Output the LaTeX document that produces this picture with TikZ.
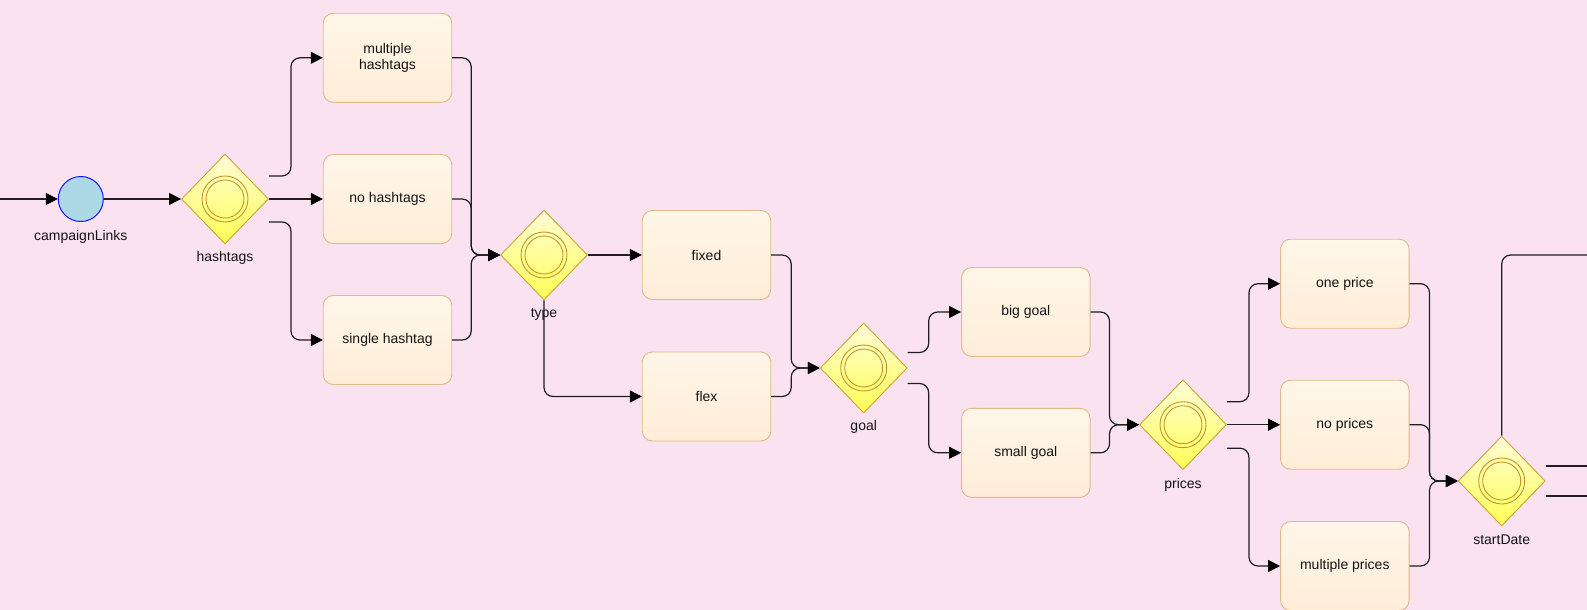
\documentclass[tikz,border=0pt]{standalone}
\usepackage{fontspec}
\setmainfont{Liberation Sans}
\usetikzlibrary{shapes.geometric, arrows.meta, calc}

\definecolor{pagebg}{RGB}{250,226,240}
\definecolor{boxtop}{RGB}{255,246,232}
\definecolor{boxbot}{RGB}{255,237,216}
\definecolor{boxline}{RGB}{222,186,140}
\definecolor{gwtop}{RGB}{255,253,215}
\definecolor{gwbot}{RGB}{255,255,85}
\definecolor{gwline}{RGB}{208,164,50}
\definecolor{ringcol}{RGB}{196,150,40}
\definecolor{evfill}{RGB}{173,216,230}
\definecolor{evline}{RGB}{20,20,255}
\definecolor{wire}{RGB}{30,30,30}
\definecolor{txt}{RGB}{20,20,20}

\tikzset{
  taskbox/.style={rectangle, rounded corners=10pt, draw=boxline, line width=0.9pt,
    top color=boxtop, bottom color=boxbot, minimum width=128.5pt, minimum height=89pt,
    inner sep=0pt, align=center, text=txt, font=\fontsize{14}{16}\selectfont},
  gateway/.style={diamond, draw=gwline, line width=0.9pt, top color=gwtop, bottom color=gwbot,
    minimum width=87pt, minimum height=90pt, inner sep=0pt,
    path picture={\draw[ringcol, line width=0.9pt] (path picture bounding box.center) circle (23pt) circle (19pt);}},
  startev/.style={circle, draw=evline, fill=evfill, line width=1pt, minimum size=45pt, inner sep=0pt},
  lbl/.style={anchor=base, text=txt, font=\fontsize{14}{16}\selectfont, inner sep=0pt},
  wireline/.style={draw=wire, line width=1.2pt, rounded corners=9pt},
  flow/.style={wireline, -{Triangle[length=12pt,width=12pt,fill=black,color=black]}},
}

\begin{document}
\begin{tikzpicture}[x=1pt, y=-1pt]
\useasboundingbox (0,0) rectangle (1587,610);
\fill[pagebg] (0,0) rectangle (1587,610);
\clip (0,0) rectangle (1587,610);

% free ends at the picture border
\coordinate (in) at (0,199);
\coordinate (o1) at (1587,255);
\coordinate (o2) at (1587,466);
\coordinate (o3) at (1587,496);

% start event and gateways
\node[startev] (cl) at (80.8,199) {};
\node[gateway] (hs) at (225,199) {};
\node[gateway] (ty) at (544,255) {};
\node[gateway] (gl) at (863.7,368) {};
\node[gateway] (pr) at (1183,424.7) {};
\node[gateway] (sd) at (1501.7,481) {};

% tasks
\node[taskbox] (mh) at (387.5,57.8) {multiple\\hashtags};
\node[taskbox] (nh) at (387.5,199) {no hashtags};
\node[taskbox] (sh) at (387.5,340) {single hashtag};
\node[taskbox] (fx) at (706.5,255) {fixed};
\node[taskbox] (fl) at (706.5,396.5) {flex};
\node[taskbox] (bgl) at (1025.8,312) {big goal};
\node[taskbox] (sgl) at (1025.8,452.8) {small goal};
\node[taskbox] (op) at (1344.8,283.7) {one price};
\node[taskbox] (np) at (1344.8,424.7) {no prices};
\node[taskbox] (mp) at (1344.8,566) {multiple prices};

% sequence flows
\draw[flow] (in) -- (cl.west);
\draw[flow] (cl.east) -- (hs.west);

\draw[flow] ([yshift=23pt]hs.east) -- ++(22,0) |- (mh.west);
\draw[flow] (hs.east) -- (nh.west);
\draw[flow] ([yshift=-23pt]hs.east) -- ++(22,0) |- (sh.west);

\draw[flow] (mh.east) -- ++(19,0) |- (ty.west);
\draw[flow] (nh.east) -- ++(19,0) |- (ty.west);
\draw[flow] (sh.east) -- ++(19,0) |- (ty.west);

\draw[flow] (ty.east) -- (fx.west);
\draw[flow] (ty.south) |- (fl.west);

\draw[flow] (fx.east) -- ++(20,0) |- (gl.west);
\draw[flow] (fl.east) -- ++(20,0) |- (gl.west);

\draw[flow] ([yshift=15.5pt]gl.east) -- ++(21,0) |- (bgl.west);
\draw[flow] ([yshift=-15.5pt]gl.east) -- ++(21,0) |- (sgl.west);

\draw[flow] (bgl.east) -- ++(19,0) |- (pr.west);
\draw[flow] (sgl.east) -- ++(19,0) |- (pr.west);

\draw[flow] ([yshift=23pt]pr.east) -- ++(22,0) |- (op.west);
\draw[flow] (pr.east) -- (np.west);
\draw[flow] ([yshift=-23.5pt]pr.east) -- ++(22,0) |- (mp.west);

\draw[flow] (op.east) -- ++(20,0) |- (sd.west);
\draw[flow] (np.east) -- ++(20,0) |- (sd.west);
\draw[flow] (mp.east) -- ++(20,0) |- (sd.west);

\draw[wireline] (sd.north) |- (o1);
\draw[wireline] ([yshift=15pt]sd.east) -- (o2);
\draw[wireline] ([yshift=-15pt]sd.east) -- (o3);

% element labels
\node[lbl] (cl-l) at ([yshift=-18.5pt]cl.south) {campaignLinks};
\node[lbl] (hs-l) at ([yshift=-17pt]hs.south) {hashtags};
\node[lbl] (ty-l) at ([yshift=-17pt]ty.south) {type};
\node[lbl] (gl-l) at ([yshift=-17.5pt]gl.south) {goal};
\node[lbl] (pr-l) at ([yshift=-18pt]pr.south) {prices};
\node[lbl] (sd-l) at ([yshift=-18pt]sd.south) {startDate};
\end{tikzpicture}
\end{document}
